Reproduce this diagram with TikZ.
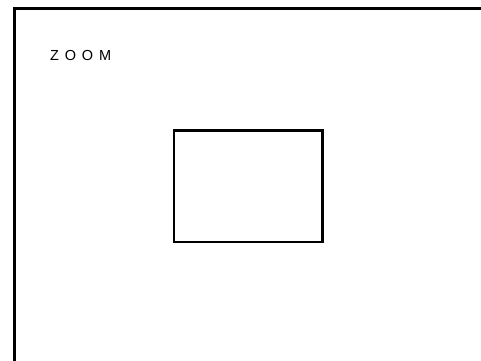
\documentclass[tikz,border=0pt]{standalone}
\usepackage{fontspec}
\setmainfont{Liberation Sans}
\tikzset{
    framebox/.style={draw=black, line width=2.6pt},
    zoombox/.style={draw=black, line width=2.8pt, minimum width=148.5pt, minimum height=111.5pt, inner sep=0pt},
    zoomlabel/.style={font=\fontsize{14.5}{17}\selectfont\addfontfeature{LetterSpace=40}, inner sep=0pt, anchor=base west}
}
\begin{document}
\begin{tikzpicture}[x=1pt, y=-1pt]
    \useasboundingbox (0,0) rectangle (481,360);
    \clip (0,0) rectangle (481,360);
    % outer frame, runs off the right and bottom edges
    \coordinate (ftl) at (14.5,8.7);
    \coordinate (fbr) at (500,380);
    \draw[framebox] (ftl) rectangle (fbr);
    \node[zoomlabel] (lbl) at (50,60.2) {ZOOM};
    \node[zoombox] (box) at (248.25,186.25) {};
\end{tikzpicture}
\end{document}
